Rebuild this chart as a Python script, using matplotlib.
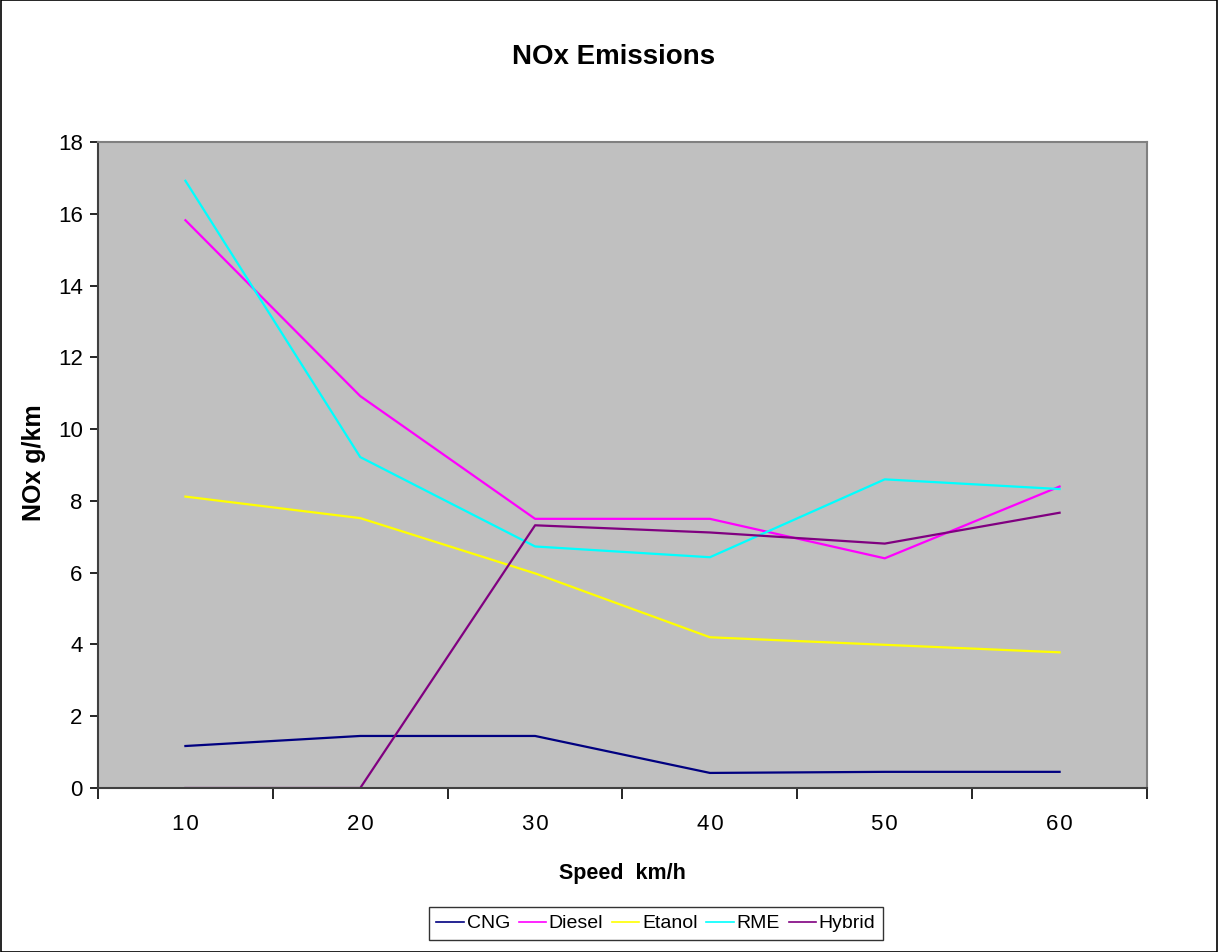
import numpy as np
import matplotlib.pyplot as plt
from matplotlib.patches import Rectangle

plt.rcParams['font.family'] = ['Liberation Sans', 'DejaVu Sans']

speeds = ['10', '20', '30', '40', '50', '60']
cng = [1.17, 1.45, 1.45, 0.42, 0.45, 0.45]
diesel = [15.82, 10.92, 7.50, 7.50, 6.40, 8.40]
etanol = [8.12, 7.52, 5.98, 4.20, 3.99, 3.78]
rme = [16.92, 9.22, 6.73, 6.43, 8.60, 8.33]
hybrid = [0.0, 0.0, 7.32, 7.12, 6.81, 7.67]

series = [('CNG', cng, '#000080'),
          ('Diesel', diesel, '#FF00FF'),
          ('Etanol', etanol, '#FFFF00'),
          ('RME', rme, '#00FFFF'),
          ('Hybrid', hybrid, '#800080')]

W, H = 1218, 952
fig = plt.figure(figsize=(W / 100, H / 100), dpi=100)
fig.patches.append(Rectangle((0.0005, 0.0005), 0.999, 0.999, transform=fig.transFigure,
                             fill=False, edgecolor='black', linewidth=1.2))
ax = fig.add_axes([98 / W, 1 - 788 / H, (1147 - 98) / W, (788 - 142) / H])
ax.set_facecolor('#C0C0C0')

x = np.arange(len(speeds))
for name, vals, col in series:
    ax.plot(x, vals, color=col, linewidth=1.6, label=name)

ax.set_xlim(-0.5, len(speeds) - 0.5)
ax.set_ylim(0, 18)
ax.set_yticks(range(0, 19, 2))
ax.set_yticklabels([str(v) for v in range(0, 19, 2)], fontsize=16)
ax.set_xticks(x)
ax.set_xticklabels(['\u200a'.join(s) for s in speeds], fontsize=16)
ax.set_xticks(np.arange(-0.5, len(speeds)), minor=True)
ax.tick_params(axis='x', which='major', length=0, pad=19)
ax.tick_params(axis='x', which='minor', length=8, width=1.2, direction='out', color='black')
ax.tick_params(axis='y', length=6, width=1.2, direction='out', pad=5)

for side in ['top', 'right']:
    ax.spines[side].set_color('#808080')
    ax.spines[side].set_linewidth(1.5)
for side in ['left', 'bottom']:
    ax.spines[side].set_color('#404040')
    ax.spines[side].set_linewidth(1.5)

fig.text(0.5 * (514 + 714) / W, 1 - 57 / H, 'NOx Emissions', ha='center', va='center',
         fontsize=20, fontweight='bold')
fig.text(622 / W, 1 - 874 / H, 'Speed  km/h', ha='center', va='center',
         fontsize=15.5, fontweight='bold')
fig.text(34 / W, 1 - 463 / H, 'NOx g/km', ha='center', va='center', rotation=90,
         fontsize=18, fontweight='bold')

leg = fig.legend(loc='upper center', bbox_to_anchor=(656 / W, 1 - 907 / H), ncol=5,
                 frameon=True, fancybox=False, handlelength=1.4,
                 handletextpad=0.15, columnspacing=0.45, borderpad=0.4,
                 borderaxespad=0, prop={'size': 14})
leg.get_frame().set_edgecolor('black')
leg.get_frame().set_linewidth(1.0)
for line in leg.get_lines():
    line.set_linewidth(1.2)

fig.savefig('out.png', dpi=100)
